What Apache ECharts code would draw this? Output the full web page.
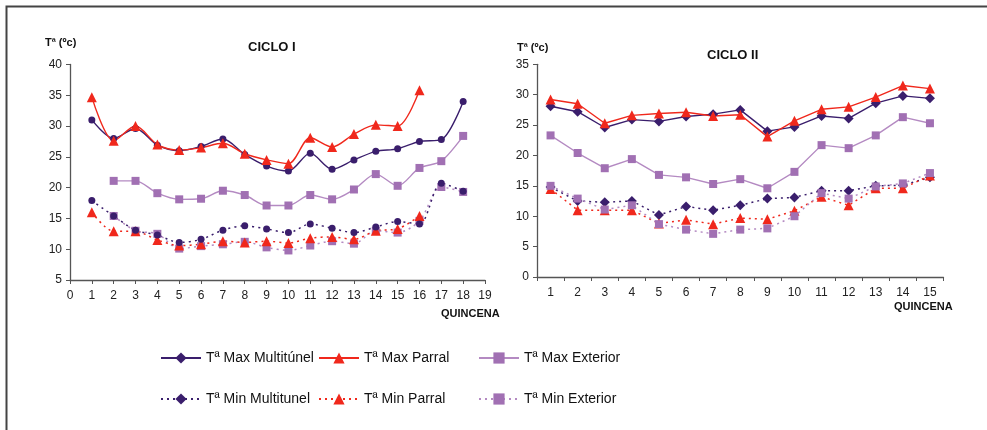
<!DOCTYPE html>
<html><head><meta charset="utf-8">
<script src="https://cdn.jsdelivr.net/npm/echarts@6/dist/echarts.min.js"></script>
<style>html,body{margin:0;padding:0;background:#fff}#c{width:987px;height:430px}</style>
</head><body><div id="c"></div>
<script>
// ---- Ciclo I (quincenas 1..18) ----
const c1Quincena = [1,2,3,4,5,6,7,8,9,10,11,12,13,14,15,16,17,18];
const c1MaxMulti = [31.0,28.0,29.6,26.9,26.0,26.7,27.9,25.4,23.5,22.7,25.6,23.0,24.5,25.9,26.3,27.5,27.8,34.0];
const c1MaxParral = [34.7,27.6,30.0,27.0,26.1,26.5,27.2,25.5,24.5,23.9,28.1,26.6,28.7,30.2,30.0,35.8,null,null];
const c1MaxExt = [null,21.1,21.1,19.1,18.1,18.2,19.5,18.8,17.1,17.1,18.8,18.1,19.7,22.2,20.3,23.2,24.3,28.4];
const c1MinMulti = [17.9,15.4,13.1,12.3,11.1,11.6,13.1,13.8,13.3,12.7,14.1,13.4,12.7,13.6,14.5,14.1,20.7,19.4];
const c1MinParral = [16.0,12.9,12.9,11.5,10.6,10.8,11.3,11.1,11.3,11.0,11.8,12.0,11.6,13.0,13.3,15.4,null,null];
const c1MinExt = [null,15.4,13.0,12.5,10.1,10.5,10.8,11.2,10.3,9.8,10.6,11.3,10.9,13.0,12.7,14.6,20.1,19.3];
const c1XTicks = [0,19];
const c1YTicks = [5,40];

// ---- Ciclo II (quincenas 1..15) ----
const c2Quincena = ['1','2','3','4','5','6','7','8','9','10','11','12','13','14','15'];
const c2MaxMulti = [28.1,27.2,24.6,25.9,25.6,26.4,26.8,27.5,24.0,24.7,26.5,26.1,28.6,29.8,29.4];
const c2MaxParral = [29.2,28.5,25.3,26.6,26.9,27.1,26.5,26.7,23.1,25.7,27.6,28.0,29.6,31.5,31.0];
const c2MaxExt = [23.3,20.4,17.9,19.4,16.8,16.4,15.3,16.1,14.6,17.3,21.7,21.2,23.3,26.3,25.3];
const c2MinMulti = [14.8,12.5,12.3,12.5,10.2,11.6,11.0,11.8,12.9,13.1,14.2,14.2,15.0,15.1,16.4];
const c2MinParral = [14.5,11.0,11.0,11.0,8.8,9.4,8.7,9.7,9.5,10.9,13.2,11.8,14.6,14.6,16.7];
const c2MinExt = [15.0,12.9,11.1,11.8,8.7,7.8,7.1,7.8,8.0,10.0,13.8,12.9,14.9,15.4,17.1];
const c2YTicks = [0,35];

const names = ['Tª Max Multitúnel','Tª Max Parral','Tª Max Exterior','Tª Min Multitunel','Tª Min Parral','Tª Min Exterior'];

const cMulti = '#3a1e6c', cParral = '#f0281c', cExt = '#a170b3', cExtLine = '#b48ac2';

function pairs(arr){ return c1Quincena.map((q,i)=>[q,arr[i]]).filter(p=>p[1]!=null); }

const baseAxisLine = {lineStyle:{color:'#555',width:1.3}};
const tickLbl = {color:'#222',fontSize:12,fontFamily:'Liberation Sans, Arial, sans-serif'};

function mk(name, data, xi, color, lineColor, symbol, size, dotted, smooth){
  return {name:name,type:'line',xAxisIndex:xi,yAxisIndex:xi,data:data,symbol:symbol,symbolSize:size,
    smooth:smooth,connectNulls:false,
    itemStyle:{color:color},
    lineStyle:{color:lineColor,width:dotted?1.5:1.4,type:dotted?[2,4]:'solid'},
    emphasis:{disabled:true},z:dotted?2:3};
}

const series = [
  // right chart first so legend icons take diamonds
  mk(names[0], c2MaxMulti, 1, cMulti, cMulti, 'diamond', 10, false, false),
  mk(names[1], c2MaxParral, 1, cParral, cParral, 'triangle', 10, false, false),
  mk(names[2], c2MaxExt, 1, cExt, cExtLine, 'rect', 8, false, false),
  mk(names[3], c2MinMulti, 1, cMulti, cMulti, 'diamond', 10, true, false),
  mk(names[4], c2MinParral, 1, cParral, cParral, 'triangle', 10, true, false),
  mk(names[5], c2MinExt, 1, cExt, cExtLine, 'rect', 8, true, false),
  mk(names[5], pairs(c1MinExt), 0, cExt, cExtLine, 'rect', 8, true, 0.3),
  mk(names[4], pairs(c1MinParral), 0, cParral, cParral, 'triangle', 10, true, 0.3),
  mk(names[3], pairs(c1MinMulti), 0, cMulti, cMulti, 'circle', 7, true, 0.3),
  mk(names[2], pairs(c1MaxExt), 0, cExt, cExtLine, 'rect', 8, false, 0.3),
  mk(names[0], pairs(c1MaxMulti), 0, cMulti, cMulti, 'circle', 7, false, 0.3),
  mk(names[1], pairs(c1MaxParral), 0, cParral, cParral, 'triangle', 10, false, 0.3)
];

const legFont = {fontSize:14,color:'#111',fontFamily:"'Liberation Sans',Arial,sans-serif"};
function leg(left, a, b){
  return {left:left,top:346,orient:'vertical',itemGap:27,itemWidth:40,itemHeight:14,
    data:[a,b],textStyle:legFont,selectedMode:false,itemStyle:{borderWidth:0}};
}

const lblBold = {fontSize:11,fontWeight:'bold',fill:'#111',fontFamily:'Liberation Sans, Arial, sans-serif'};

const option = {
  animation:false,
  backgroundColor:'#fff',
  grid:[
    {left:70,top:64.5,width:415,height:215.5},
    {left:537,top:64.3,width:406.5,height:212.7}
  ],
  xAxis:[
    {gridIndex:0,type:'value',min:c1XTicks[0],max:c1XTicks[1],interval:1,
     axisLine:baseAxisLine,axisTick:{show:true,length:4,lineStyle:{color:'#555'}},
     axisLabel:Object.assign({margin:10},tickLbl),splitLine:{show:false}},
    {gridIndex:1,type:'category',data:c2Quincena,boundaryGap:true,
     axisLine:baseAxisLine,axisTick:{show:true,length:4,alignWithLabel:false,lineStyle:{color:'#555'}},
     axisLabel:Object.assign({margin:10,interval:0},tickLbl),splitLine:{show:false}}
  ],
  yAxis:[
    {gridIndex:0,type:'value',min:c1YTicks[0],max:c1YTicks[1],interval:5,
     axisLine:Object.assign({show:true},baseAxisLine),axisTick:{show:true,length:4,lineStyle:{color:'#555'}},
     axisLabel:Object.assign({margin:8},tickLbl),splitLine:{show:false}},
    {gridIndex:1,type:'value',min:c2YTicks[0],max:c2YTicks[1],interval:5,
     axisLine:Object.assign({show:true},baseAxisLine),axisTick:{show:true,length:4,lineStyle:{color:'#555'}},
     axisLabel:Object.assign({margin:8},tickLbl),splitLine:{show:false}}
  ],
  legend:[
    leg(155, names[0], names[3]),
    leg(313, names[1], names[4]),
    leg(473, names[2], names[5])
  ],
  graphic:[
    {type:'rect',shape:{x:6.5,y:6.5,width:1100,height:600},style:{fill:null,stroke:'#444',lineWidth:2},silent:true},
    {type:'text',left:45,top:37,style:Object.assign({text:'Tª (ºc)'},lblBold)},
    {type:'text',left:517,top:42,style:Object.assign({text:'Tª (ºc)'},lblBold)},
    {type:'text',left:248,top:41,style:Object.assign({text:'CICLO I'},lblBold,{fontSize:13})},
    {type:'text',left:707,top:49,style:Object.assign({text:'CICLO II'},lblBold,{fontSize:13})},
    {type:'text',left:441,top:308,style:Object.assign({text:'QUINCENA'},lblBold)},
    {type:'text',left:894,top:301,style:Object.assign({text:'QUINCENA'},lblBold)}
  ],
  series:series
};
echarts.init(document.getElementById('c'),null,{renderer:'canvas'}).setOption(option);
</script></body></html>
